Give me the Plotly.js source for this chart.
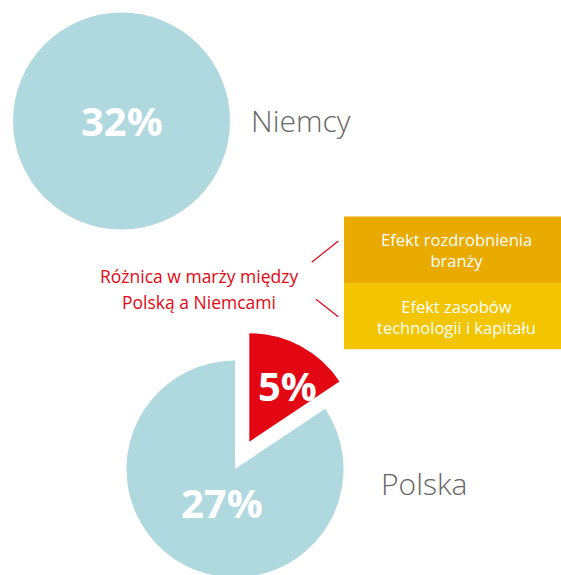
<!DOCTYPE html>
<html>
<head>
<meta charset="utf-8">
<script src="https://cdn.plot.ly/plotly-3.0.1.min.js"></script>
<style>
html,body{margin:0;padding:0;overflow:hidden;background:#fff;}
#chart{width:561px;height:590px;}
</style>
</head>
<body>
<div id="chart"></div>
<script>
// Data
const countries = ["Niemcy", "Polska"];
const niemcyValues = [32];
const polskaLabels = ["Różnica w marży między Polską a Niemcami", "Polska"];
const polskaValues = [5, 27];
const valueLabels = ["32%", "5%", "27%"];
const differenceLabel = ["Różnica w marży między", "Polską a Niemcami"];
const effectLabels = ["Efekt rozdrobnienia<br>branży", "Efekt zasobów<br>technologii i kapitału"];

const W = 561, H = 590;
const fx = px => px / W;
const fy = py => 1 - py / H;

const blue = "#B0D8DF";
const red = "#E30613";
const clear = "rgba(0,0,0,0)";
const font = "Open Sans, Noto Sans, sans-serif";

function dom(cx, cy, r) {
  return {x: [fx(cx - r), fx(cx + r)], y: [fy(cy + r), fy(cy - r)]};
}

const R = 108.5;
const traces = [
  {
    type: "pie", values: niemcyValues, labels: [countries[0]],
    marker: {colors: [blue], line: {width: 0}},
    textinfo: "none", sort: false, hoverinfo: "skip",
    domain: dom(121.5, 121, R), showlegend: false
  },
  {
    type: "pie", values: polskaValues, labels: polskaLabels,
    marker: {colors: [clear, blue], line: {width: 0}},
    textinfo: "none", sort: false, direction: "clockwise", rotation: 0,
    hoverinfo: "skip", domain: dom(235, 469, R), showlegend: false
  },
  {
    type: "pie", values: polskaValues, labels: polskaLabels,
    marker: {colors: [red, clear], line: {width: 0}},
    textinfo: "none", sort: false, direction: "clockwise", rotation: 0,
    hoverinfo: "skip", domain: dom(249.3, 441.7, R), showlegend: false
  }
];

const pctFont = {family: font, size: 40, color: "#ffffff", weight: 700};
const redFont = {family: font, size: 17.5, color: red};
const boxFont = {family: font, size: 16.5, color: "#ffffff"};
const annotations = [
  {x: fx(121.5), y: fy(121), text: "<b>" + valueLabels[0] + "</b>", font: pctFont},
  {x: fx(287), y: fy(385), text: "<b>" + valueLabels[1] + "</b>", font: pctFont},
  {x: fx(222), y: fy(502), text: "<b>" + valueLabels[2] + "</b>", font: pctFont},
  {x: fx(249), y: fy(121), text: countries[0], xanchor: "left", font: {family: font, size: 30, color: "#666666", weight: 300}},
  {x: fx(379), y: fy(484), text: countries[1], xanchor: "left", font: {family: font, size: 30, color: "#666666", weight: 300}},
  {x: fx(198.5), y: fy(276), text: differenceLabel[0], font: redFont},
  {x: fx(198.5), y: fy(302), text: differenceLabel[1], font: redFont},
  {x: fx(456), y: fy(250), text: effectLabels[0], font: boxFont},
  {x: fx(456), y: fy(316.5), text: effectLabels[1], font: boxFont}
].map(a => Object.assign({xref: "paper", yref: "paper", showarrow: false, xanchor: "center", yanchor: "middle"}, a));

const shapes = [
  {type: "rect", x0: fx(344), x1: fx(561), y0: fy(283), y1: fy(216.5), fillcolor: "#EAAB00", line: {width: 0}},
  {type: "rect", x0: fx(344), x1: fx(561), y0: fy(349.3), y1: fy(283), fillcolor: "#F2C500", line: {width: 0}},
  {type: "line", x0: fx(311.7), y0: fy(262.3), x1: fx(338.3), y1: fy(241), line: {color: red, width: 1.2}},
  {type: "line", x0: fx(316), y0: fy(299.3), x1: fx(338.3), y1: fy(316.7), line: {color: red, width: 1.2}}
].map(s => Object.assign({xref: "paper", yref: "paper"}, s));

Plotly.newPlot("chart", traces, {
  width: W, height: H,
  margin: {l: 0, r: 0, t: 0, b: 0},
  paper_bgcolor: "#ffffff",
  showlegend: false,
  annotations: annotations,
  shapes: shapes
}, {displayModeBar: false, staticPlot: true});
</script>
</body>
</html>
